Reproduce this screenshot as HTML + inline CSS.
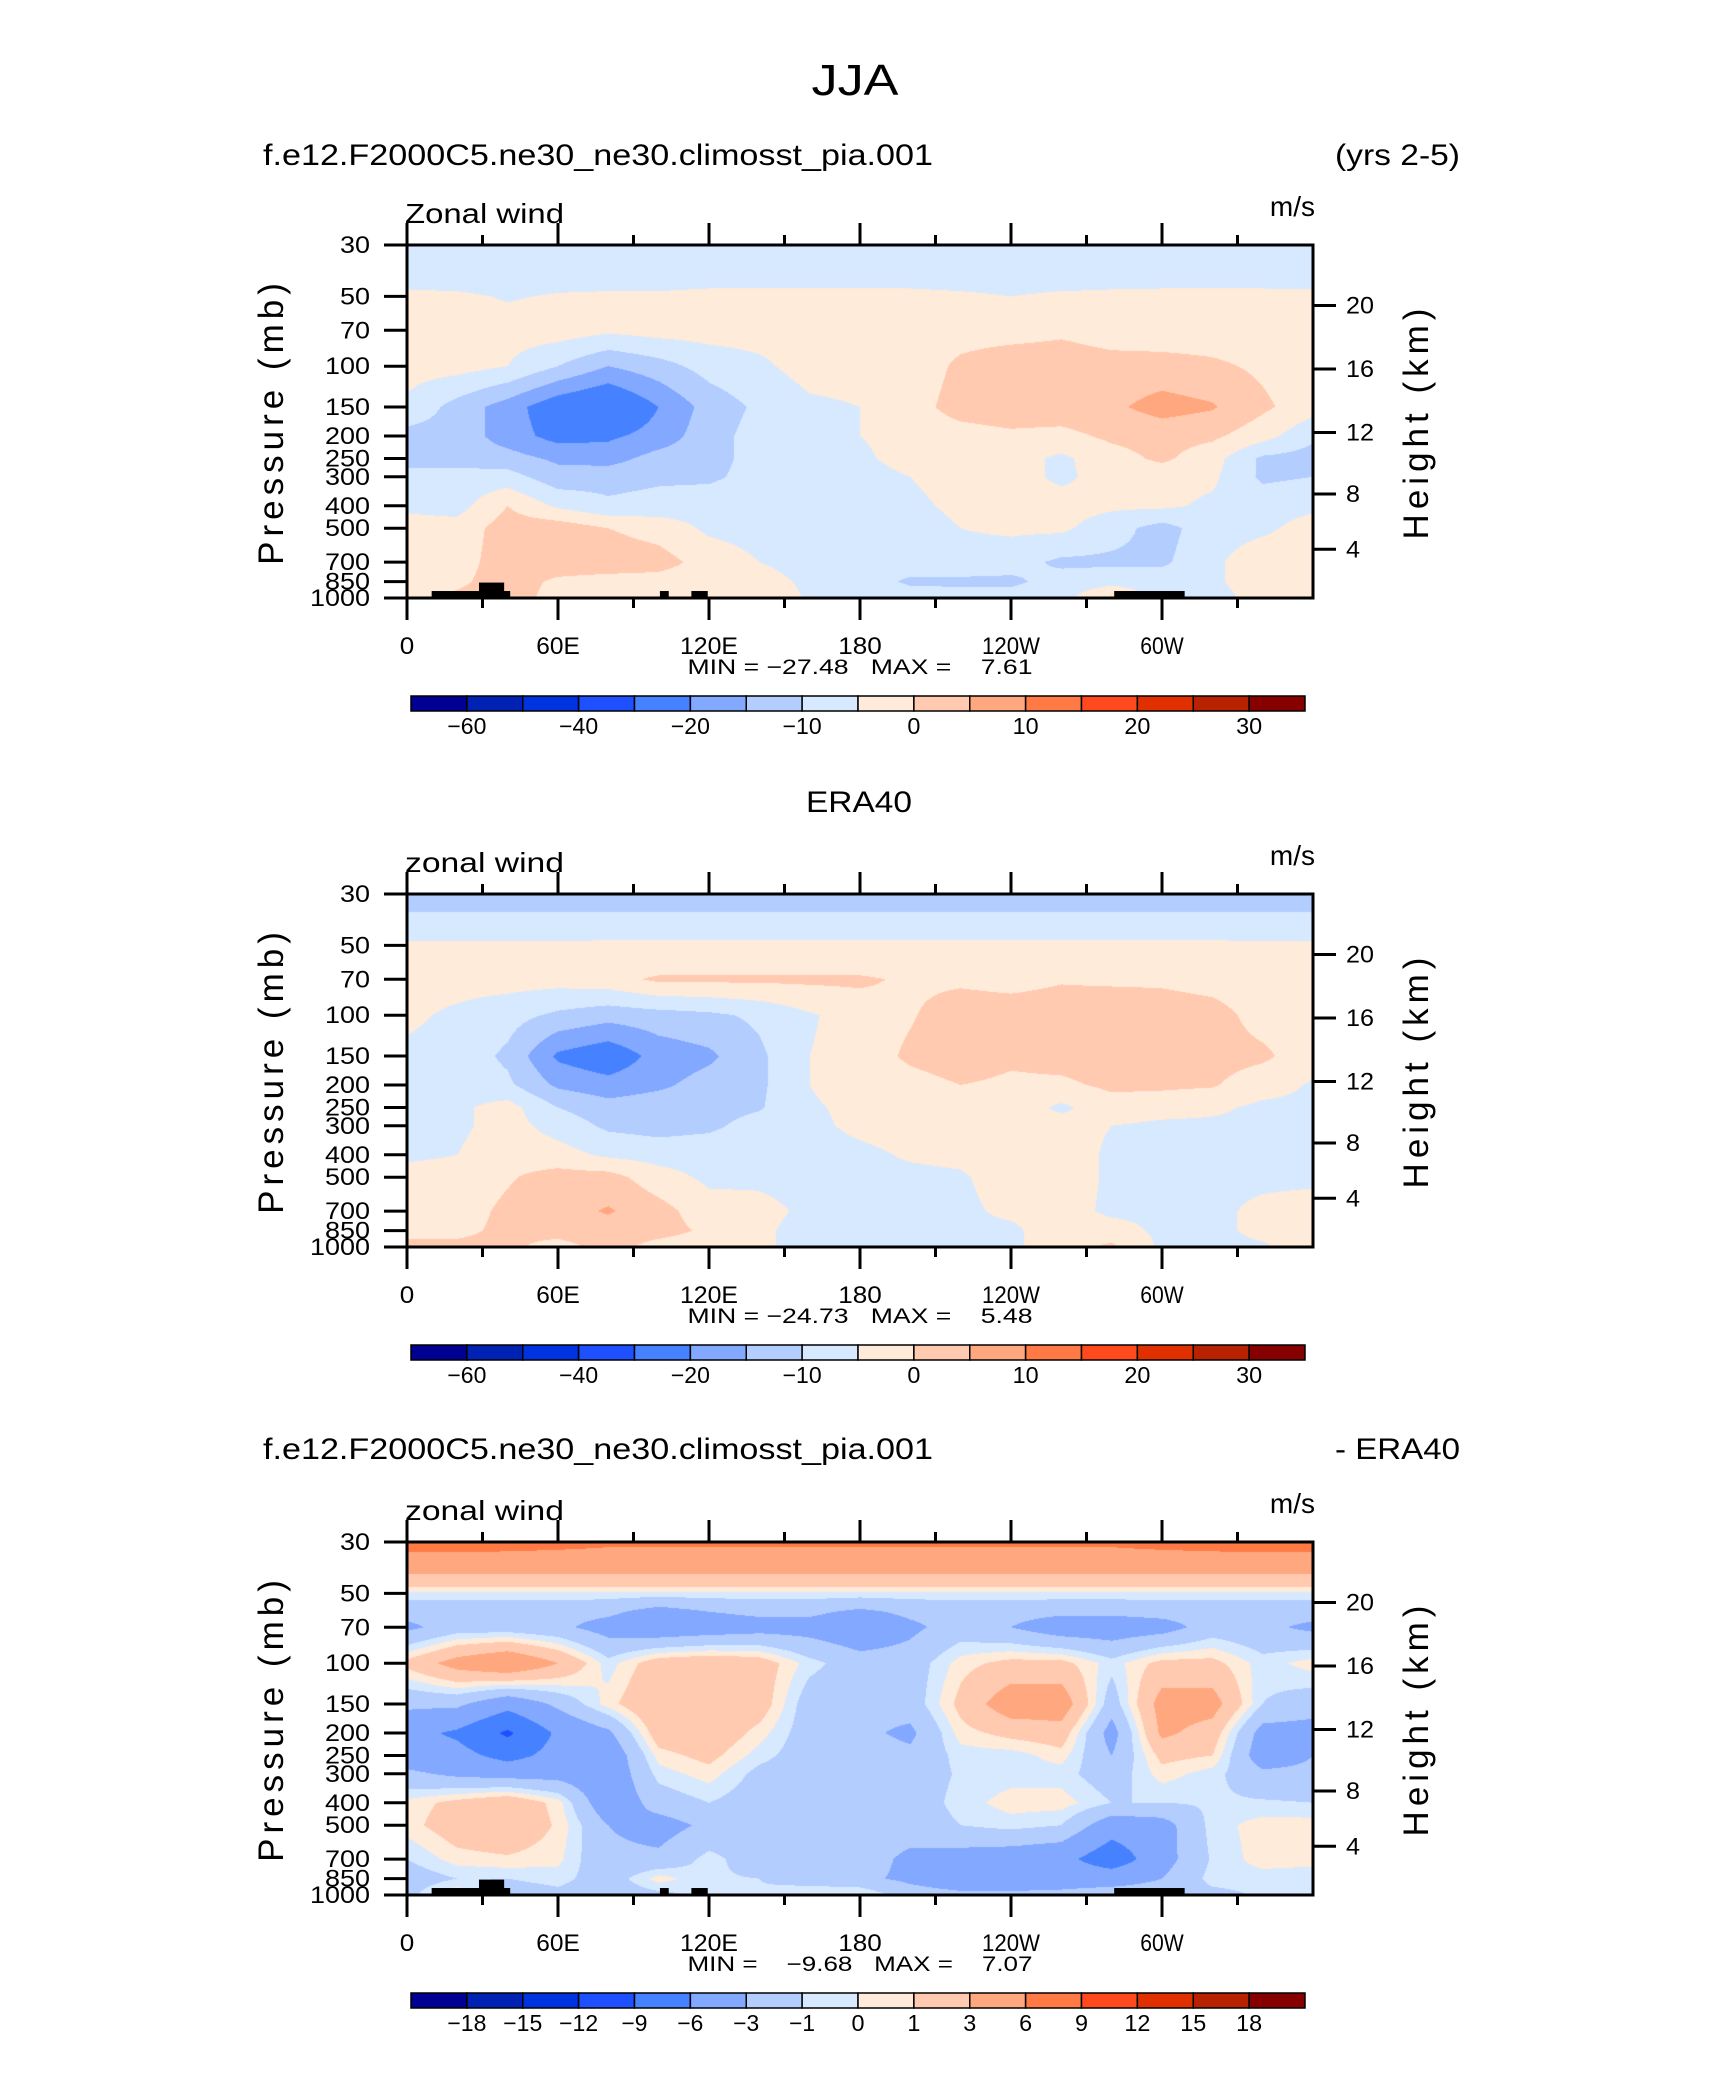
<!DOCTYPE html>
<html><head><meta charset="utf-8">
<style>
html,body{margin:0;padding:0;background:#fff;}
#root{position:relative;width:1710px;height:2074px;overflow:hidden;background:#fff;font-family:"Liberation Sans",sans-serif;}
canvas{position:absolute;}
svg{position:absolute;left:0;top:0;}
</style></head>
<body>
<div id="root">
<canvas id="c1"></canvas>
<canvas id="c2"></canvas>
<canvas id="c3"></canvas>
<svg id="ov" width="1710" height="2074"></svg>
</div>
<script>
// ---- data ----
const lons = [0,20,40,60,80,100,120,140,160,180,200,220,240,260,280,300,320,340,360];
const plevs = [30,35,40,45,50,60,70,100,150,200,250,300,400,500,700,850,1000];
const levelsWind = [-60,-50,-40,-30,-20,-15,-10,-5,0,5,10,15,20,25,30];
const levelsDiff = [-18,-15,-12,-9,-6,-3,-1,0,1,3,6,9,12,15,18];
const windLabels = ['−60','−40','−20','−10','0','10','20','30'];
const windLabelIdx = [0,2,4,6,8,10,12,14];
const diffLabels = ['−18','−15','−12','−9','−6','−3','−1','0','1','3','6','9','12','15','18'];
const palette = ['#000092','#0022B4','#0033E0','#1E50FF','#4682FF','#82A8FF','#B4CDFF','#D7E9FF','#FFEBD9','#FFCAB0','#FFA880','#FF7A45','#FF4A1E','#E03000','#B82200','#870000'];
const lonTicks = [0,60,120,180,240,300];
const lonTickLabels = ['0','60E','120E','180','120W','60W'];
const pTickVals = [30,50,70,100,150,200,250,300,400,500,700,850,1000];
const heightTicks = [4,8,12,16,20];
// topography blocks: [lon start, lon end, top pressure]
const topoA = [[9.8,41,933],[28.6,38.6,858],[100.5,104,933],[113,119.5,933],[281,309,933]];

const modelWind = [
[-7.5,-7.5,-7.5,-7.5,-7.5,-7.5,-7.5,-7.5,-7.5,-7.5,-7.5,-7.5,-7.5,-7.5,-7.5,-7.5,-7.5,-7.5,-7.5],
[-7.5,-7.5,-7.5,-7.5,-7.5,-7.5,-7.5,-7.5,-7.5,-7.5,-7.5,-7.5,-7.5,-7.5,-7.5,-7.5,-7.5,-7.5,-7.5],
[-7,-7,-7,-7,-7,-7,-7,-7,-7,-7,-7,-7,-7,-7,-7,-7,-7,-7,-7],
[-5.5,-6,-7,-6,-6,-6,-5.5,-5.5,-5.5,-5.5,-5.5,-6,-6.5,-6,-5.5,-5.5,-5.5,-5.5,-5.5],
[-4,-4,-5.5,-4.5,-4,-4,-3.5,-3.5,-3.5,-3.5,-3.5,-4,-5,-4,-4,-3.5,-3.5,-3.5,-4],
[-3,-3,-4,-3,-3,-3,-3,-3,-3,-3,-3,-3,-3,-3,-3,-3,-3,-3,-3],
[-3,-3,-3,-2.5,-4,-3,-3,-3,-3,-3,-3,-2,-2,-1,-2.5,-3,-3,-3,-3],
[-3,-3,-5,-10,-15,-12,-8,-6,-3,-3,-3,1,3,3,2,2,1,-1,-3],
[-6,-12,-17.5,-24,-27,-20,-13,-9,-6,-5,-2,2,3,3,4,7,5.5,1,-3],
[-12,-12,-17.5,-22,-21,-18,-12,-8,-7,-5,-3,-2,-1,-1.5,1,2,1,-3,-9],
[-12,-12,-13,-16,-17,-13,-12,-8,-7,-6,-3,-3,-3,-6,-2,1,-3,-11,-12],
[-8,-8,-8,-13,-12,-11,-11,-8,-7,-7,-5,-3,-3,-6,-3,-3,-4,-11,-10],
[-6,-7,0,-6,-9,-8,-7,-7,-7,-7,-6,-4,-3,-3,-4,-4,-6,-7,-6],
[-3,-3,2.5,3,0,-2,-6,-7,-7,-7,-7,-5,-4,-4,-8,-12,-7,-6,-3],
[-2,-2,2.5,3,3,2,-2,-5,-7,-7,-7,-7,-8,-11,-11,-11,-6,-2,-2],
[-2,-1,2.5,-1,-2,-2,-3,-3,-6,-7,-11,-11,-11,-8,-7,-7,-6,-2,-2],
[-2,1,2.5,-2,-2,-2,-3,-2,-5.5,-7,-7,-8,-8,-7,1,-8,-7,-3,-2]
];
const eraWind = [
[-12,-12,-12,-12,-12,-12,-12,-12,-12,-12,-12,-12,-12,-12,-12,-12,-12,-12,-12],
[-10.5,-10.5,-10.5,-10.5,-10.5,-10.5,-10.5,-10.5,-10.5,-10.5,-10.5,-10.5,-10.5,-10.5,-10.5,-10.5,-10.5,-10.5,-10.5],
[-8,-8,-8,-8,-8,-8,-8,-8,-8,-8,-8,-8,-8,-8,-8,-8,-8,-8,-8],
[-6.5,-6.5,-6.5,-6.5,-6,-6,-6,-6,-6,-6,-6,-6,-6,-6,-6,-6,-6,-6.5,-6.5],
[-4,-4,-4,-4,-4,-4,-4,-4,-4,-4,-4,-4,-4,-4,-4,-4,-4,-4,-4],
[-3,-3,-3,-3,-3,-3,-3,-3,-3,-3,-3,-3,-3,-3,-3,-3,-3,-3,-3],
[-3,-3,-3,-3,-2,1,1,1,1,1,-1,-1,-2,-0.5,-1,-1,-2,-3,-3],
[-4,-6,-8,-11,-13,-12,-11,-9,-5.5,-3,-0.5,3,3,3,4,3,2,-2,-3],
[-6,-7,-11,-21,-24,-18,-16,-11,-5,-3,1,3,1,2,3,3,2,1,-3],
[-6,-7,-9,-16,-18,-16,-13,-11,-5,-3,-2,0,-1,-1,1,1,0.5,-3,-5.5],
[-6,-6,-3,-10,-13,-12,-12,-10.5,-5.5,-4,-2,-2,-2,-6,-2,-3,-4,-6,-6],
[-6,-6,-3,-7,-11,-12,-11,-8,-6,-4,-3,-3,-2,-3,-5,-6,-6,-6,-6],
[-6,-5,-2,-3,-6,-7,-7,-7,-7,-6,-4.5,-4,-2,-2,-6,-6,-6,-6,-6],
[-3,-3,-0.5,2,2,-3,-6,-6,-7,-6,-6,-5.5,-3,-2,-6,-6,-6,-6,-6],
[-2,-2,1,3,5.5,2,-3,-3.5,-6,-6,-6,-6,-4,-3,-6,-6,-6,-4,-3],
[-1,-1,1,2,3,2,-1,-4,-7,-6,-6,-6,-6,-2,-3,-6,-6,-4,-3],
[1,1,1,-2,2,-2,-3,-4,-7,-6,-6,-6,-6,-2,1,-6,-6,-5.5,-3]
];
const diffWind = [
[8,8,7.5,7,6.5,6.5,6.5,6.5,6.5,6.5,6.5,6.5,6.5,6.5,6.5,7,7.5,8,8],
[5,5,5,5,5,5,5,5,5,5,5,5,5,5,5,5,5,5,5],
[3.5,3.5,3.5,3.5,3.5,3.5,3.5,3.5,3.5,3.5,3.5,3.5,3.5,3.5,3.5,3.5,3.5,3.5,3.5],
[1.8,1.8,1.8,1.8,1.8,1.8,1.8,1.8,1.8,1.8,1.8,1.8,1.8,1.8,1.8,1.8,1.8,1.8,1.8],
[-0.3,-0.3,-0.3,-0.3,-0.3,-0.3,-0.3,-0.3,-0.3,-0.3,-0.3,-0.3,-0.3,-0.3,-0.3,-0.3,-0.3,-0.3,-0.3],
[-2.2,-2.2,-2.2,-2.2,-2.5,-4,-3,-2.5,-2.5,-3.5,-2.5,-2.2,-2.2,-2.5,-2.5,-2.2,-2.2,-2.2,-2.2],
[-3.5,-2,-2,-2.5,-4,-5,-4.5,-4,-4,-5,-3.5,-2,-3,-4.5,-4.5,-4,-2,-2.5,-3.5],
[1.5,4,5.5,3,-0.5,2,2.5,2,-0.5,-2,-2,0.5,1.5,1.5,-0.5,1.5,1.5,-0.5,0.5],
[-2.5,-2.5,-5,-2.5,0.5,3,2.5,2,-2,-2.5,-2,1.5,4.5,4.5,-2,4,4,-1,-2],
[-5,-6.5,-9.5,-5.5,-3.5,2,2.5,0.5,-2,-2.5,-3.5,0.5,1.5,2,-4,3.5,2,-4,-4],
[-4.5,-5,-7,-5,-5,0.5,1.5,-0.5,-2,-2,-2.5,-0.5,-0.5,0.5,-3,1.5,1,-4.5,-3],
[-2.5,-3.5,-4,-4,-5,-0.5,0.5,-1.5,-2,-2,-2,-0.8,-0.5,-0.5,-2,0.5,-0.5,-2.5,-2.5],
[0.3,1.5,2.5,0.5,-5,-2,-1,-2,-2,-2,-2,-0.5,0.5,0.5,-1,-1,-0.8,-0.8,-1],
[0.5,2,2.5,0.8,-3,-4,-2.5,-2.5,-2,-2,-2,-1,-0.5,-1,-4.5,-4,-0.5,0.5,0.5],
[-1,0.5,0.8,0.3,-2.5,-2.5,-0.5,-2,-2,-2,-3.5,-4,-4.5,-5,-8,-4,-0.8,0.5,0.3],
[-2,-1,-1,-0.5,-2,0.5,-0.8,-1,-2,-2.5,-3.5,-4.5,-4.5,-4,-4,-3,-0.5,-0.5,-0.5],
[-1.5,1,-2,-1.5,-2,-1.5,-0.5,-0.8,0.3,0.3,-2,-2.5,-2.5,-2.5,-2,-2,-1.5,-0.8,-0.5]
];

// ---- layout ----
const PL = 407, PR = 1313, PW = PR - PL, PH = 353;
const panels = [
  {id:'c1', top:245, data:modelWind, levels:levelsWind, labels:windLabels, labelIdx:windLabelIdx, topo:true,
   label:'Zonal wind', minmax:'MIN = −27.48   MAX =    7.61', name:'model'},
  {id:'c2', top:894, data:eraWind, levels:levelsWind, labels:windLabels, labelIdx:windLabelIdx, topo:false,
   label:'zonal wind', minmax:'MIN = −24.73   MAX =    5.48', name:'era40'},
  {id:'c3', top:1542, data:diffWind, levels:levelsDiff, labels:diffLabels, labelIdx:[0,1,2,3,4,5,6,7,8,9,10,11,12,13,14], topo:true,
   label:'zonal wind', minmax:'MIN =    −9.68   MAX =    7.07', name:'difference'}
];
const LP0 = Math.log(30), LPR = Math.log(1000/30);
function xOf(lon){ return PL + lon/360*PW; }
function yOf(p, top){ return top + (Math.log(p)-LP0)/LPR*PH; }
function pOfZ(zkm){ const z=zkm*1000; return z<11000 ? 1013.25*Math.pow(1-2.25577e-5*z,5.25588) : 226.32*Math.exp(-(z-11000)/6341.6); }
function binOf(v, levels){ let k=0; while(k<levels.length && v>=levels[k]) k++; return k; }

// ---- fill panels ----
const lpl = plevs.map(p=>Math.log(p));
panels.forEach(P=>{
  const cv = document.getElementById(P.id);
  cv.width = PW; cv.height = PH;
  cv.style.left = PL+'px'; cv.style.top = P.top+'px';
  const ctx = cv.getContext('2d');
  const img = ctx.createImageData(PW, PH);
  const rgb = palette.map(h=>[parseInt(h.substr(1,2),16),parseInt(h.substr(3,2),16),parseInt(h.substr(5,2),16)]);
  for(let py=0; py<PH; py++){
    const lp = LP0 + (py+0.5)/PH*LPR;
    let j=0; while(j<lpl.length-2 && lp>lpl[j+1]) j++;
    const ty = Math.min(1,Math.max(0,(lp-lpl[j])/(lpl[j+1]-lpl[j])));
    for(let px=0; px<PW; px++){
      const lon = (px+0.5)/PW*360;
      let i = Math.min(lons.length-2, Math.floor(lon/20));
      const tx = (lon - lons[i])/(lons[i+1]-lons[i]);
      const d = P.data;
      const v = (d[j][i]*(1-tx)+d[j][i+1]*tx)*(1-ty) + (d[j+1][i]*(1-tx)+d[j+1][i+1]*tx)*ty;
      const c = rgb[binOf(v, P.levels)];
      const o = (py*PW+px)*4;
      img.data[o]=c[0]; img.data[o+1]=c[1]; img.data[o+2]=c[2]; img.data[o+3]=255;
    }
  }
  ctx.putImageData(img,0,0);
});

// ---- overlay ----
const NS='http://www.w3.org/2000/svg';
const svg=document.getElementById('ov');
function mk(tag, attrs, parent){ const e=document.createElementNS(NS,tag); for(const k in attrs) e.setAttribute(k,attrs[k]); (parent||svg).appendChild(e); return e; }
function txt(s, attrs, parent){ const e=mk('text', attrs, parent); e.textContent=s; return e; }

let t;
t = txt('JJA',{x:855,y:95,'font-size':44,'text-anchor':'middle',fill:'#000','textLength':87,'lengthAdjust':'spacingAndGlyphs'});
 
t = txt('f.e12.F2000C5.ne30_ne30.climosst_pia.001',{x:263,y:165,'font-size':30,fill:'#000','textLength':670,'lengthAdjust':'spacingAndGlyphs'});
 
t = txt('(yrs 2-5)',{x:1460,y:165,'font-size':30,'text-anchor':'end',fill:'#000','textLength':125,'lengthAdjust':'spacingAndGlyphs'});
 
t = txt('ERA40',{x:859,y:812,'font-size':30,'text-anchor':'middle',fill:'#000','textLength':106,'lengthAdjust':'spacingAndGlyphs'});
 
t = txt('f.e12.F2000C5.ne30_ne30.climosst_pia.001',{x:263,y:1459,'font-size':30,fill:'#000','textLength':670,'lengthAdjust':'spacingAndGlyphs'});
 
t = txt('- ERA40',{x:1460,y:1459,'font-size':30,'text-anchor':'end',fill:'#000','textLength':125,'lengthAdjust':'spacingAndGlyphs'});
 

panels.forEach(P=>{
  const g = mk('g',{});
  
  
  const top=P.top, bot=top+PH;
  if(P.topo){
    topoA.forEach(b=>{
      const r = mk('rect',{x:xOf(b[0]),y:yOf(b[2],top),width:xOf(b[1])-xOf(b[0]),height:bot-yOf(b[2],top),fill:'#000'},g);
      
      
    });
  }
  const fr = mk('rect',{x:PL,y:top,width:PW,height:PH,fill:'none',stroke:'#000','stroke-width':3},g);
   
  for(let lon=0; lon<360; lon+=30){
    const major = lon%60===0; const L = major?22:10; const x=xOf(lon);
    mk('line',{x1:x,y1:bot,x2:x,y2:bot+L,stroke:'#000','stroke-width':3},g);
    mk('line',{x1:x,y1:top,x2:x,y2:top-L,stroke:'#000','stroke-width':3},g);
  }
  lonTicks.forEach((lon,i)=>{
    const s=lonTickLabels[i];
    const e = txt(s,{x:xOf(lon),y:bot+56,'font-size':24,'text-anchor':'middle',fill:'#000','textLength':s.length*14.5,'lengthAdjust':'spacingAndGlyphs'},g);
     
  });
  pTickVals.forEach(p=>{
    const y=yOf(p,top);
    mk('line',{x1:PL-23,y1:y,x2:PL,y2:y,stroke:'#000','stroke-width':3},g);
    const e = txt(String(p),{x:370,y:y+8,'font-size':24,'text-anchor':'end',fill:'#000','textLength':String(p).length*15,'lengthAdjust':'spacingAndGlyphs'},g);
     
  });
  heightTicks.forEach(z=>{
    const y=yOf(pOfZ(z),top);
    mk('line',{x1:PR,y1:y,x2:PR+23,y2:y,stroke:'#000','stroke-width':3},g);
    const e = txt(String(z),{x:1346,y:y+8,'font-size':24,fill:'#000','textLength':String(z).length*14,'lengthAdjust':'spacingAndGlyphs'},g);
     
  });
  const cy=top+PH/2;
  let e = txt('Pressure  (mb)',{x:283,y:cy,'font-size':35,'text-anchor':'middle',fill:'#000','letter-spacing':5,transform:'rotate(-90 283 '+cy+')'},g);
   
  e = txt('Height  (km)',{x:1428,y:cy,'font-size':35,'text-anchor':'middle',fill:'#000','letter-spacing':5,transform:'rotate(-90 1428 '+cy+')'},g);
   
  e = txt(P.label,{x:PL-2,y:top-22,'font-size':28,fill:'#000','textLength':159,'lengthAdjust':'spacingAndGlyphs'},g);
   
  e = txt('m/s',{x:PR+2,y:top-29,'font-size':28,'text-anchor':'end',fill:'#000'},g);
   
  e = txt(P.minmax,{x:860,y:bot+76,'font-size':21,'text-anchor':'middle',fill:'#000','textLength':345,'lengthAdjust':'spacingAndGlyphs'},g);
  e.style.whiteSpace='pre';
   
  const cbT=bot+98, cbL=411, cbW=894, cbH=15, bw=cbW/16;
  const cb = mk('g',{},g);
   
  palette.forEach((c,k)=>{
    const r=mk('rect',{x:cbL+k*bw,y:cbT,width:bw,height:cbH,fill:c,stroke:'#000','stroke-width':1.5},cb);
     
  });
  P.labelIdx.forEach((li,n)=>{
    const x=cbL+(li+1)*bw;
    const s=P.labels[n];
    const lt=txt(s,{x:x,y:cbT+38,'font-size':23,'text-anchor':'middle',fill:'#000','textLength':s.length*13,'lengthAdjust':'spacingAndGlyphs'},cb);
     
  });
});
</script>
</body></html>
